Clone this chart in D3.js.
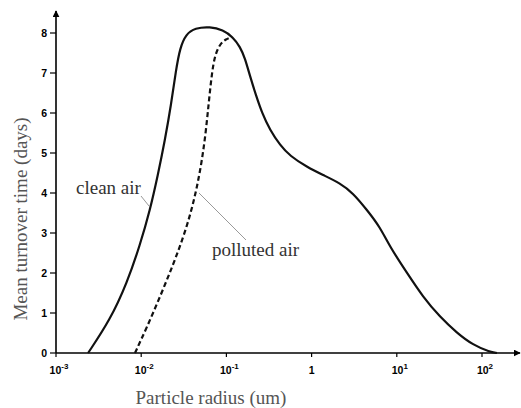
<!DOCTYPE html>
<html>
<head>
<meta charset="utf-8">
<script src="https://cdn.jsdelivr.net/npm/d3@7"></script>
<style>
  body { margin: 0; background: #fff; }
  svg { display: block; }
</style>
</head>
<body>
<div class="canvas"></div>
<script>
// data: particle radius (um) vs mean turnover time (days)
const cleanRadius = [0.00238, 0.00431, 0.00681, 0.00968, 0.0127, 0.0157, 0.0190, 0.0224, 0.0256,
    0.0285, 0.0336, 0.0428, 0.0643, 0.0912, 0.119, 0.145, 0.165, 0.189, 0.222, 0.262, 0.325,
    0.426, 0.557, 0.883, 1.36, 2.15, 3.06, 4.47, 6.35, 8.32, 13.2, 20.3, 32.1, 50.9, 78.3, 124, 150];
const cleanTime = [0, 0.825, 1.75, 2.7, 3.575, 4.45, 5.325, 6.2, 7.075,
    7.625, 7.975, 8.125, 8.16, 8.075, 7.9, 7.65, 7.375, 6.925, 6.45, 6.0, 5.575,
    5.2, 4.925, 4.65, 4.45, 4.25, 4.0, 3.575, 3.15, 2.65, 2.0, 1.4, 0.9, 0.5, 0.2, 0.025, 0];

const pollutedRadius = [0.00845, 0.0117, 0.0166, 0.0236, 0.0310, 0.0385, 0.0452, 0.0518,
    0.0577, 0.0625, 0.0678, 0.0735, 0.0841, 0.0989, 0.116];
const pollutedTime = [0, 0.65, 1.4, 2.2, 2.875, 3.525, 4.15, 4.825,
    5.575, 6.325, 7.025, 7.45, 7.725, 7.85, 7.9];

const xTicks = [1e-3, 1e-2, 1e-1, 1, 1e1, 1e2];
const xTickExp = ['-3', '-2', '-1', '', '1', '2'];
const yTicks = [0, 1, 2, 3, 4, 5, 6, 7, 8];

const width = 521;
const height = 408;

const svg = d3.select('.canvas')
    .append('svg')
        .attr('width', width)
        .attr('height', height);

// scales
const x = d3.scaleLog()
    .domain([1e-3, 1e2])
    .range([56, 482]);

const y = d3.scaleLinear()
    .domain([0, 8])
    .range([353, 33]);

// arrow head
svg.append('defs').append('marker')
    .attr('id', 'arrow')
    .attr('viewBox', '0 0 10 10')
    .attr('refX', 9)
    .attr('refY', 5)
    .attr('markerWidth', 7)
    .attr('markerHeight', 7)
    .attr('markerUnits', 'userSpaceOnUse')
    .attr('orient', 'auto')
  .append('path')
    .attr('d', 'M0,0 L10,5 L0,10 Z')
    .attr('fill', '#000');

// axes lines
svg.append('line')
    .attr('x1', x(1e-3)).attr('y1', y(0))
    .attr('x2', 520).attr('y2', y(0))
    .attr('stroke', '#000').attr('stroke-width', 1.6)
    .attr('marker-end', 'url(#arrow)');

svg.append('line')
    .attr('x1', x(1e-3)).attr('y1', y(0))
    .attr('x2', x(1e-3)).attr('y2', 11)
    .attr('stroke', '#000').attr('stroke-width', 1.6)
    .attr('marker-end', 'url(#arrow)');

// y ticks
const yTickG = svg.append('g')
    .selectAll('g')
    .data(yTicks)
    .enter()
    .append('g')
        .attr('transform', d => `translate(${x(1e-3)}, ${y(d)})`);

yTickG.append('line')
    .attr('x1', -6).attr('x2', 0)
    .attr('stroke', '#000').attr('stroke-width', 1.2);

yTickG.append('text')
    .attr('x', -9)
    .attr('dy', '0.36em')
    .attr('text-anchor', 'end')
    .attr('font-family', 'Liberation Sans, Arial, sans-serif')
    .attr('font-weight', 'bold')
    .attr('font-size', 10.5)
    .text(d => d);

// x ticks
const xTickG = svg.append('g')
    .selectAll('g')
    .data(xTicks)
    .enter()
    .append('g')
        .attr('transform', d => `translate(${x(d)}, ${y(0)})`);

xTickG.append('line')
    .attr('y1', 0).attr('y2', 4)
    .attr('stroke', '#000').attr('stroke-width', 1.2);

const xLabel = xTickG.append('text')
    .attr('x', (d, i) => xTickExp[i] === '' ? 0 : 3)
    .attr('y', 21)
    .attr('text-anchor', 'middle')
    .attr('font-family', 'Liberation Sans, Arial, sans-serif')
    .attr('font-weight', 'bold')
    .attr('font-size', 10.5);

xLabel.append('tspan')
    .text((d, i) => xTickExp[i] === '' ? '1' : '10');
xLabel.append('tspan')
    .attr('dy', -5)
    .attr('font-size', 8)
    .text((d, i) => xTickExp[i]);

// curves
const line = d3.line()
    .x(d => x(d[0]))
    .y(d => y(d[1]))
    .curve(d3.curveBasis);

svg.append('path')
    .datum(d3.zip(cleanRadius, cleanTime))
    .attr('d', line)
    .attr('fill', 'none')
    .attr('stroke', '#111')
    .attr('stroke-width', 2.2);

svg.append('path')
    .datum(d3.zip(pollutedRadius, pollutedTime))
    .attr('d', line)
    .attr('fill', 'none')
    .attr('stroke', '#111')
    .attr('stroke-width', 2.2)
    .attr('stroke-dasharray', '5,3');

// curve labels and leader lines
svg.append('line')
    .attr('x1', 141).attr('y1', 196)
    .attr('x2', 149).attr('y2', 206)
    .attr('stroke', '#999').attr('stroke-width', 1);

svg.append('line')
    .attr('x1', 199).attr('y1', 193)
    .attr('x2', 246).attr('y2', 240)
    .attr('stroke', '#999').attr('stroke-width', 1);

svg.append('text')
    .attr('x', 76).attr('y', 194)
    .attr('font-family', 'Liberation Serif, Times New Roman, serif')
    .attr('font-size', 19)
    .attr('fill', '#333')
    .text('clean air');

svg.append('text')
    .attr('x', 212).attr('y', 256)
    .attr('font-family', 'Liberation Serif, Times New Roman, serif')
    .attr('font-size', 19)
    .attr('fill', '#333')
    .text('polluted air');

// axis titles
svg.append('text')
    .attr('x', 211).attr('y', 404)
    .attr('text-anchor', 'middle')
    .attr('font-family', 'Liberation Serif, Times New Roman, serif')
    .attr('font-size', 19)
    .attr('fill', '#555')
    .text('Particle radius (um)');

svg.append('text')
    .attr('transform', 'translate(27, 219) rotate(-90)')
    .attr('text-anchor', 'middle')
    .attr('font-family', 'Liberation Serif, Times New Roman, serif')
    .attr('font-size', 19)
    .attr('fill', '#555')
    .text('Mean turnover time (days)');
</script>
</body>
</html>
